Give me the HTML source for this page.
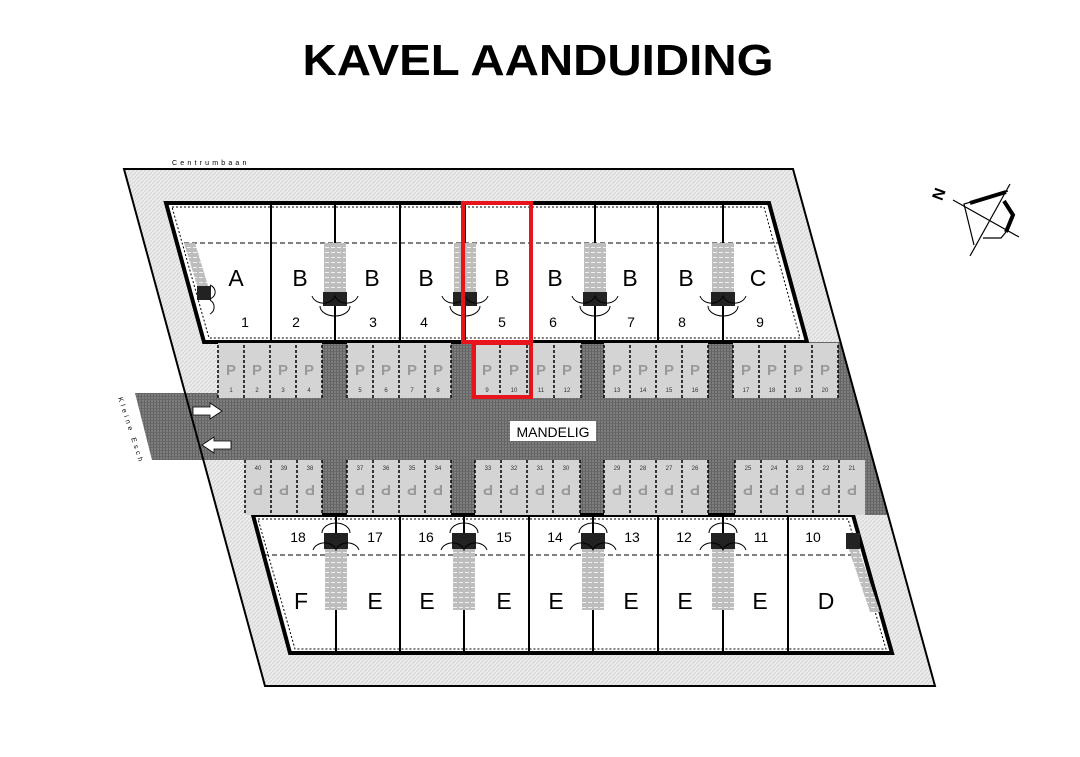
<!DOCTYPE html>
<html><head><meta charset="utf-8"><style>
html,body{margin:0;padding:0;background:#fff;width:1080px;height:757px;overflow:hidden}
svg{display:block}
text{font-family:"Liberation Sans",Arial,sans-serif}
</style></head><body>
<svg width="1080" height="757" viewBox="0 0 1080 757" xmlns="http://www.w3.org/2000/svg">
<defs>
<pattern id="hatch" width="4" height="4" patternUnits="userSpaceOnUse">
<rect width="4" height="4" fill="#ececec"/><path d="M0 4L4 0" stroke="#d4d4d4" stroke-width="1"/>
</pattern>
<pattern id="road" width="3" height="3" patternUnits="userSpaceOnUse">
<rect width="3" height="3" fill="#7e7e7e"/><rect width="1" height="3" fill="#626262"/><rect width="3" height="1" fill="#686868"/>
</pattern>
<pattern id="stair" width="6" height="5" patternUnits="userSpaceOnUse">
<rect width="6" height="5" fill="#bdbdbd"/><rect x="1" y="2" width="4" height="1" fill="#f0f0f0"/>
</pattern>
</defs>

<text x="538" y="75" font-size="44" font-weight="bold" text-anchor="middle" textLength="471" lengthAdjust="spacingAndGlyphs">KAVEL AANDUIDING</text>

<polygon points="124,169 793,169 935,686 265,686" fill="url(#hatch)"/>
<polygon points="218,342 840,342 888,515 245,515 245,460 152,460 135,393 218,393" fill="url(#road)"/>
<polygon points="124,169 793,169 935,686 265,686" fill="none" stroke="#000" stroke-width="2"/>

<!-- top block -->
<polygon points="166,203 769,203 807,342 204,342" fill="#fff" stroke="#000" stroke-width="4"/>
<polygon points="172,207 764,207 800,338 209,338" fill="none" stroke="#000" stroke-width="1" stroke-dasharray="2,2"/>
<line x1="184" y1="243" x2="780" y2="243" stroke="#000" stroke-width="1" stroke-dasharray="5,3"/>
<g stroke="#000" stroke-width="2">
<line x1="271" y1="203" x2="271" y2="342"/><line x1="335" y1="203" x2="335" y2="342"/>
<line x1="400" y1="203" x2="400" y2="342"/><line x1="465" y1="203" x2="465" y2="342"/>
<line x1="531" y1="203" x2="531" y2="342"/><line x1="595" y1="203" x2="595" y2="342"/>
<line x1="658" y1="203" x2="658" y2="342"/><line x1="723" y1="203" x2="723" y2="342"/>
</g>

<!-- bottom block -->
<polygon points="253,515 853,515 892,653 290,653" fill="#fff" stroke="#000" stroke-width="4"/>
<polygon points="258,519 848,519 886,649 295,649" fill="none" stroke="#000" stroke-width="1" stroke-dasharray="2,2"/>
<line x1="264" y1="555" x2="864" y2="555" stroke="#000" stroke-width="1" stroke-dasharray="5,3"/>
<g stroke="#000" stroke-width="2">
<line x1="336" y1="515" x2="336" y2="653"/><line x1="400" y1="515" x2="400" y2="653"/>
<line x1="464" y1="515" x2="464" y2="653"/><line x1="529" y1="515" x2="529" y2="653"/>
<line x1="593" y1="515" x2="593" y2="653"/><line x1="658" y1="515" x2="658" y2="653"/>
<line x1="723" y1="515" x2="723" y2="653"/><line x1="788" y1="515" x2="788" y2="653"/>
</g>

<!-- stairs top -->
<polygon points="184,243 195,243 210,292 199,292" fill="url(#stair)"/>
<rect x="197" y="286" width="14" height="14" fill="#222"/>
<path d="M210,285 a10,8 0 0 1 0,14 M210,300 a8,8 0 0 1 0,14" fill="none" stroke="#000"/>
<g id="st1">
<rect x="324" y="243" width="22" height="50" fill="url(#stair)"/>
<rect x="323" y="292" width="24" height="14" fill="#222"/>
<path d="M312,296 a12,10 0 0 0 23,0 a12,10 0 0 0 23,0" fill="none" stroke="#000"/>
<path d="M320,306 a15,10 0 0 0 30,0" fill="none" stroke="#000"/>
</g>
<use href="#st1" x="130"/>
<use href="#st1" x="260"/>
<use href="#st1" x="388"/>

<!-- stairs bottom -->
<g id="sb1">
<rect x="325" y="548" width="22" height="62" fill="url(#stair)"/>
<rect x="324" y="533" width="24" height="16" fill="#222"/>
<path d="M313,550 a12,10 0 0 1 23,0 a12,10 0 0 1 23,0" fill="none" stroke="#000"/>
<path d="M322,533 a14,10 0 0 1 28,0" fill="none" stroke="#000"/>
</g>
<use href="#sb1" x="128"/>
<use href="#sb1" x="257"/>
<use href="#sb1" x="387"/>
<polygon points="848,547 858,547 880,612 870,612" fill="url(#stair)"/>
<rect x="846" y="533" width="14" height="16" fill="#222"/>

<!-- top parking -->
<g fill="#d4d4d4">
<rect x="218" y="343" width="104" height="55"/><rect x="347" y="343" width="104" height="55"/>
<rect x="473" y="343" width="108" height="55"/><rect x="604" y="343" width="104" height="55"/>
<rect x="733" y="343" width="105" height="55"/>
</g>
<g stroke="#000" stroke-width="1.5" stroke-dasharray="3,2">
<line x1="218" y1="345" x2="218" y2="398"/><line x1="244" y1="345" x2="244" y2="398"/><line x1="270" y1="345" x2="270" y2="398"/><line x1="296" y1="345" x2="296" y2="398"/><line x1="322" y1="345" x2="322" y2="398"/>
<line x1="347" y1="345" x2="347" y2="398"/><line x1="373" y1="345" x2="373" y2="398"/><line x1="399" y1="345" x2="399" y2="398"/><line x1="425" y1="345" x2="425" y2="398"/><line x1="451" y1="345" x2="451" y2="398"/>
<line x1="473" y1="345" x2="473" y2="398"/><line x1="500" y1="345" x2="500" y2="398"/><line x1="527" y1="345" x2="527" y2="398"/><line x1="554" y1="345" x2="554" y2="398"/><line x1="581" y1="345" x2="581" y2="398"/>
<line x1="604" y1="345" x2="604" y2="398"/><line x1="630" y1="345" x2="630" y2="398"/><line x1="656" y1="345" x2="656" y2="398"/><line x1="682" y1="345" x2="682" y2="398"/><line x1="708" y1="345" x2="708" y2="398"/>
<line x1="733" y1="345" x2="733" y2="398"/><line x1="759" y1="345" x2="759" y2="398"/><line x1="785" y1="345" x2="785" y2="398"/><line x1="812" y1="345" x2="812" y2="398"/><line x1="838" y1="345" x2="838" y2="398"/>
</g>
<g fill="#999" font-size="15" font-weight="bold" text-anchor="middle">
<text x="231" y="375">P</text><text x="257" y="375">P</text><text x="283" y="375">P</text><text x="309" y="375">P</text>
<text x="360" y="375">P</text><text x="386" y="375">P</text><text x="412" y="375">P</text><text x="438" y="375">P</text>
<text x="487" y="375">P</text><text x="514" y="375">P</text><text x="541" y="375">P</text><text x="567" y="375">P</text>
<text x="617" y="375">P</text><text x="643" y="375">P</text><text x="669" y="375">P</text><text x="695" y="375">P</text>
<text x="746" y="375">P</text><text x="772" y="375">P</text><text x="798" y="375">P</text><text x="825" y="375">P</text>
</g>
<g fill="#333" font-size="6" text-anchor="middle">
<text x="231" y="392">1</text><text x="257" y="392">2</text><text x="283" y="392">3</text><text x="309" y="392">4</text>
<text x="360" y="392">5</text><text x="386" y="392">6</text><text x="412" y="392">7</text><text x="438" y="392">8</text>
<text x="487" y="392">9</text><text x="514" y="392">10</text><text x="541" y="392">11</text><text x="567" y="392">12</text>
<text x="617" y="392">13</text><text x="643" y="392">14</text><text x="669" y="392">15</text><text x="695" y="392">16</text>
<text x="746" y="392">17</text><text x="772" y="392">18</text><text x="798" y="392">19</text><text x="825" y="392">20</text>
</g>

<!-- bottom parking -->
<g fill="#d4d4d4">
<rect x="245" y="460" width="77" height="55"/><rect x="347" y="460" width="104" height="55"/>
<rect x="475" y="460" width="105" height="55"/><rect x="604" y="460" width="104" height="55"/>
<rect x="735" y="460" width="130" height="55"/>
</g>
<g stroke="#000" stroke-width="1.5" stroke-dasharray="3,2">
<line x1="245" y1="460" x2="245" y2="513"/><line x1="271" y1="460" x2="271" y2="513"/><line x1="297" y1="460" x2="297" y2="513"/><line x1="322" y1="460" x2="322" y2="513"/>
<line x1="347" y1="460" x2="347" y2="513"/><line x1="373" y1="460" x2="373" y2="513"/><line x1="399" y1="460" x2="399" y2="513"/><line x1="425" y1="460" x2="425" y2="513"/><line x1="451" y1="460" x2="451" y2="513"/>
<line x1="475" y1="460" x2="475" y2="513"/><line x1="501" y1="460" x2="501" y2="513"/><line x1="527" y1="460" x2="527" y2="513"/><line x1="553" y1="460" x2="553" y2="513"/><line x1="580" y1="460" x2="580" y2="513"/>
<line x1="604" y1="460" x2="604" y2="513"/><line x1="630" y1="460" x2="630" y2="513"/><line x1="656" y1="460" x2="656" y2="513"/><line x1="682" y1="460" x2="682" y2="513"/><line x1="708" y1="460" x2="708" y2="513"/>
<line x1="735" y1="460" x2="735" y2="513"/><line x1="761" y1="460" x2="761" y2="513"/><line x1="787" y1="460" x2="787" y2="513"/><line x1="813" y1="460" x2="813" y2="513"/><line x1="839" y1="460" x2="839" y2="513"/>
</g>
<g fill="#999" font-size="15" font-weight="bold" text-anchor="middle">
<text transform="translate(258,485) rotate(180)">P</text><text transform="translate(284,485) rotate(180)">P</text><text transform="translate(310,485) rotate(180)">P</text>
<text transform="translate(360,485) rotate(180)">P</text><text transform="translate(386,485) rotate(180)">P</text><text transform="translate(412,485) rotate(180)">P</text><text transform="translate(438,485) rotate(180)">P</text>
<text transform="translate(488,485) rotate(180)">P</text><text transform="translate(514,485) rotate(180)">P</text><text transform="translate(540,485) rotate(180)">P</text><text transform="translate(566,485) rotate(180)">P</text>
<text transform="translate(617,485) rotate(180)">P</text><text transform="translate(643,485) rotate(180)">P</text><text transform="translate(669,485) rotate(180)">P</text><text transform="translate(695,485) rotate(180)">P</text>
<text transform="translate(748,485) rotate(180)">P</text><text transform="translate(774,485) rotate(180)">P</text><text transform="translate(800,485) rotate(180)">P</text><text transform="translate(826,485) rotate(180)">P</text><text transform="translate(852,485) rotate(180)">P</text>
</g>
<g fill="#333" font-size="6" text-anchor="middle">
<text x="258" y="470">40</text><text x="284" y="470">39</text><text x="310" y="470">38</text>
<text x="360" y="470">37</text><text x="386" y="470">36</text><text x="412" y="470">35</text><text x="438" y="470">34</text>
<text x="488" y="470">33</text><text x="514" y="470">32</text><text x="540" y="470">31</text><text x="566" y="470">30</text>
<text x="617" y="470">29</text><text x="643" y="470">28</text><text x="669" y="470">27</text><text x="695" y="470">26</text>
<text x="748" y="470">25</text><text x="774" y="470">24</text><text x="800" y="470">23</text><text x="826" y="470">22</text><text x="852" y="470">21</text>
</g>

<polygon points="193,407 210,407 210,403 222,411 210,419 210,415 193,415" fill="#fff" stroke="#000" stroke-width="0.8"/>
<polygon points="231,441 214,441 214,437 202,445 214,453 214,449 231,449" fill="#fff" stroke="#000" stroke-width="0.8"/>

<rect x="510" y="421" width="86" height="20" fill="#fff"/>
<text x="553" y="437" font-size="14" text-anchor="middle">MANDELIG</text>

<g font-size="23" text-anchor="middle">
<text x="236" y="286">A</text><text x="300" y="286">B</text><text x="372" y="286">B</text><text x="426" y="286">B</text><text x="502" y="286">B</text><text x="555" y="286">B</text><text x="630" y="286">B</text><text x="686" y="286">B</text><text x="758" y="286">C</text>
</g>
<g font-size="14" text-anchor="middle">
<text x="245" y="327">1</text><text x="296" y="327">2</text><text x="373" y="327">3</text><text x="424" y="327">4</text><text x="502" y="327">5</text><text x="553" y="327">6</text><text x="631" y="327">7</text><text x="682" y="327">8</text><text x="760" y="327">9</text>
<text x="298" y="542">18</text><text x="375" y="542">17</text><text x="426" y="542">16</text><text x="504" y="542">15</text><text x="555" y="542">14</text><text x="632" y="542">13</text><text x="684" y="542">12</text><text x="761" y="542">11</text><text x="813" y="542">10</text>
</g>
<g font-size="23" text-anchor="middle">
<text x="301" y="609">F</text><text x="375" y="609">E</text><text x="427" y="609">E</text><text x="504" y="609">E</text><text x="556" y="609">E</text><text x="631" y="609">E</text><text x="685" y="609">E</text><text x="760" y="609">E</text><text x="826" y="609">D</text>
</g>

<g fill="none" stroke="#e8141c" stroke-width="4">
<rect x="463" y="203" width="68" height="139"/>
<rect x="474" y="343" width="57" height="54"/>
</g>

<text x="172" y="165" font-size="7" letter-spacing="3.2">Centrumbaan</text>
<text transform="translate(118,398) rotate(72)" font-size="7" letter-spacing="3">Kleine Esch</text>

<g stroke="#000" fill="none">
<line x1="953" y1="200" x2="1019" y2="237" stroke-width="1.2"/>
<line x1="1010" y1="184" x2="970" y2="256" stroke-width="1.2"/>
<polyline points="974,245 964,204 1008,191" stroke-width="1.2"/>
<polyline points="983,238 1001,238 1006,232" stroke-width="1.2"/>
<line x1="970" y1="203" x2="1006" y2="192" stroke-width="4"/>
<polyline points="1004,201 1013,215 1006,232" stroke-width="4"/>
</g>
<text transform="translate(944,196) rotate(-70)" font-size="16" text-anchor="middle" font-weight="bold">N</text>
</svg>
</body></html>
